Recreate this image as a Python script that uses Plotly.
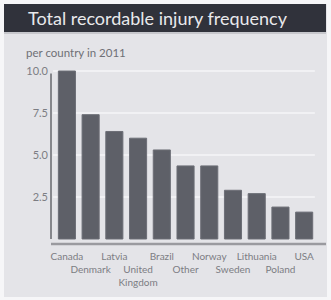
import plotly.graph_objects as go

countries = ["Canada", "Denmark", "Latvia", "United Kingdom", "Brazil", "Other",
             "Norway", "Sweden", "Lithuania", "Poland", "USA"]
tick_labels = ["Canada", "<br>Denmark", "Latvia", "<br>United<br>Kingdom", "Brazil",
               "<br>Other", "Norway", "<br>Sweden", "Lithuania", "<br>Poland", "USA"]
values = [10.0, 7.4, 6.4, 6.0, 5.3, 4.35, 4.35, 2.9, 2.7, 1.9, 1.6]
y_ticks = [2.5, 5.0, 7.5, 10.0]
y_tick_text = ["2.5", "5.0", "7.5", "10.0"]

FONT = "Lato"
L, R, T, B = 51, 5, 65, 56
W, H = 331, 300
PW, PH = W - L - R, H - T - B


def px(x):
    return (x - L) / PW


def py(y):
    return (H - B - y) / PH


fig = go.Figure()
fig.add_trace(go.Bar(
    x=countries, y=values,
    marker=dict(color="#5e6068", line=dict(color="#6c6e76", width=1)),
    width=0.72, hoverinfo="skip",
))

shapes = []
# light frame background
shapes.append(dict(type="rect", xref="paper", yref="paper", layer="below",
                   x0=px(4), x1=px(327), y0=py(297), y1=py(4),
                   fillcolor="#e4e4e8", line=dict(width=0)))
# gridlines
for v in y_ticks:
    shapes.append(dict(type="line", xref="x", yref="y", layer="below",
                       x0=-0.58, x1=10.45, y0=v, y1=v,
                       line=dict(color="#f1f1f4", width=2)))
# y axis line
shapes.append(dict(type="line", xref="paper", yref="y", x0=0, x1=0,
                   y0=0, y1=9.85, line=dict(color="#86878c", width=2)))
# baseline
shapes.append(dict(type="line", xref="paper", yref="paper", x0=0, x1=1,
                   y0=0, y1=0, line=dict(color="#9a9a9f", width=2.5)))
# header bar
shapes.append(dict(type="rect", xref="paper", yref="paper",
                   x0=px(4), x1=px(326), y0=py(32), y1=py(4),
                   fillcolor="#30323b", line=dict(width=0)))
shapes.append(dict(type="line", xref="paper", yref="paper",
                   x0=px(4), x1=px(326), y0=py(33), y1=py(33),
                   line=dict(color="#a9aab0", width=1)))

fig.update_layout(
    width=W, height=H,
    margin=dict(l=L, r=R, t=T, b=B, autoexpand=False),
    paper_bgcolor="#f6f6f8",
    plot_bgcolor="rgba(0,0,0,0)",
    showlegend=False,
    bargap=0.28,
    shapes=shapes,
    xaxis=dict(
        range=[-0.67, 10.92], automargin=False,
        tickmode="array", tickvals=countries, ticktext=tick_labels,
        showgrid=False, showline=False, zeroline=False, ticks="",
        tickfont=dict(family=FONT, size=10, color="#7c7d83"),
        tickangle=0, ticklabelstandoff=5,
    ),
    yaxis=dict(
        range=[-0.298, 10.357], automargin=False,
        tickmode="array", tickvals=y_ticks, ticktext=y_tick_text,
        showgrid=False, showline=False, zeroline=False, ticks="",
        tickfont=dict(family=FONT, size=11, color="#7c7d83"),
        ticklabelstandoff=2,
    ),
    annotations=[
        dict(text="Total recordable injury frequency", xref="paper", yref="paper",
             x=px(26), y=py(18), xanchor="left", yanchor="middle",
             showarrow=False, font=dict(family=FONT, size=18, color="#e9e9ec")),
        dict(text="per country in 2011", xref="paper", yref="paper",
             x=px(24), y=py(52), xanchor="left", yanchor="middle",
             showarrow=False, font=dict(family=FONT, size=11.5, color="#6f7076")),
    ],
)

fig.write_html("out.html", config={"displayModeBar": False},
               post_script="document.body.style.margin='0';")
